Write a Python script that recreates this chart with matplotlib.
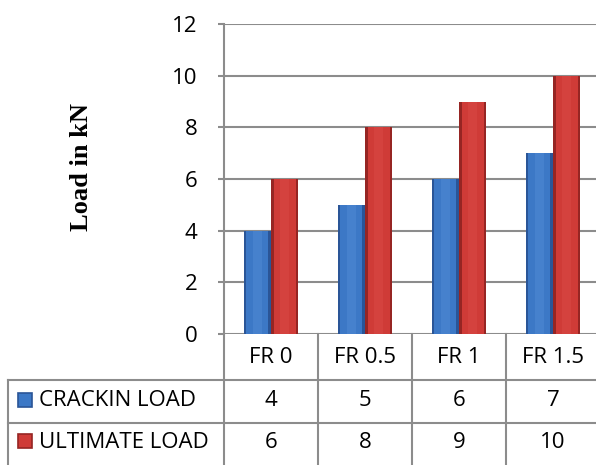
import numpy as np
import matplotlib.pyplot as plt

# chart data
categories = ["FR 0", "FR 0.5", "FR 1", "FR 1.5"]
series_names = ["CRACKIN LOAD", "ULTIMATE LOAD"]
cracking = [4, 5, 6, 7]
ultimate = [6, 8, 9, 10]
y_ticks = [0, 2, 4, 6, 8, 10, 12]

W, H = 596, 465
blue, blue_dark, blue_light = "#3C78C6", "#2A5597", "#5A92DC"
red, red_dark, red_light = "#CF3B37", "#962523", "#E0514C"
grid_col = "#8C8C8C"
font = "Open Sans"
fs = 16

fig = plt.figure(figsize=(W / 100, H / 100), dpi=100)

# plot area in pixels: left 224, top 24, bottom 334, right 600 (runs past the edge)
ax = fig.add_axes([224 / W, (H - 334) / H, (600 - 224) / W, (334 - 24) / H])
x = np.arange(len(categories))
bw = 0.29
for vals, off, c, cd, cl in [(cracking, -bw / 2, blue, blue_dark, blue_light),
                             (ultimate, bw / 2, red, red_dark, red_light)]:
    ax.bar(x + off, vals, width=bw, color=cd, zorder=3)
    ax.bar(x + off, vals, width=bw * 0.8, color=c, zorder=3)
    ax.bar(x + off, vals, width=bw * 0.35, color=cl, alpha=0.35, zorder=3)

ax.set_xlim(-0.5, len(categories) - 0.5)
ax.set_ylim(0, 12)
ax.set_yticks(y_ticks)
ax.set_yticklabels([str(v) for v in y_ticks], fontsize=fs, fontfamily=font, color="black")
ax.set_xticks([])
ax.yaxis.grid(True, color=grid_col, linewidth=1.5, zorder=0)
ax.tick_params(axis="y", length=4, width=1.5, color=grid_col, pad=15)
for s in ["top", "right", "bottom"]:
    ax.spines[s].set_visible(False)
ax.spines["left"].set_color(grid_col)
ax.spines["left"].set_linewidth(1.5)

fig.text(82 / W, 1 - 167 / H, "Load in kN", rotation=90, ha="center", va="center",
         fontsize=19, fontweight="bold", fontfamily="Liberation Serif")

# data table below the plot, sharing the category scale
tab = fig.add_axes([8 / W, 0, (600 - 8) / W, (H - 334) / H])
tab.set_xlim(-0.5 - 216 / 94, len(categories) - 0.5)
tab.set_ylim(H + 8, 334)
tab.axis("off")
lw = 1.5
left_x = -0.5 - 216 / 94
y_head, y_r1, y_r2, y_bot = 334, 383, 428, H + 8
tab.plot([left_x, 3.5], [y_r1, y_r1], color=grid_col, lw=lw, clip_on=False)
tab.plot([left_x, 3.5], [y_r2, y_r2], color=grid_col, lw=lw, clip_on=False)
tab.plot([left_x, left_x], [y_r1, y_bot], color=grid_col, lw=lw, clip_on=False)
for b in np.arange(len(categories) + 1) - 0.5:
    tab.plot([b, b], [y_head, y_bot], color=grid_col, lw=lw, clip_on=False)

for i, cat in enumerate(categories):
    tab.text(i, 359, cat, ha="center", va="center", fontsize=fs, fontfamily=font)
    tab.text(i, 405, str(cracking[i]), ha="center", va="center", fontsize=fs, fontfamily=font)
    tab.text(i, 449, str(ultimate[i]), ha="center", va="center", fontsize=fs, fontfamily=font)

key_x = left_x + 16.5 / 94
for name, yc, c, cd in [(series_names[0], 405, blue, blue_dark), (series_names[1], 449, red, red_dark)]:
    tab.plot([key_x], [yc - 1], marker="s", markersize=10.5, color=c,
             markeredgecolor=cd, markeredgewidth=1.2, clip_on=False)
    tab.text(left_x + 31 / 94, yc, name, ha="left", va="center", fontsize=fs, fontfamily=font)

fig.savefig("out.png", dpi=100)
